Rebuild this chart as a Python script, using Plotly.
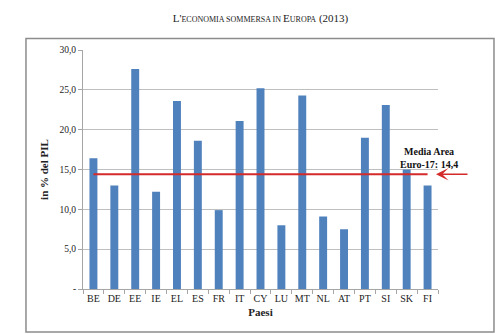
import plotly.graph_objects as go

paesi = ["BE", "DE", "EE", "IE", "EL", "ES", "FR", "IT", "CY", "LU", "MT", "NL", "AT", "PT", "SI", "SK", "FI"]
valori = [16.4, 13.0, 27.6, 12.2, 23.6, 18.6, 9.9, 21.1, 25.2, 8.0, 24.3, 9.1, 7.5, 19.0, 23.1, 15.0, 13.0]
media = 14.4
tick_vals = [0, 5, 10, 15, 20, 25, 30]
tick_text = ["-", "5,0", "10,0", "15,0", "20,0", "25,0", "30,0"]

SERIF = "Liberation Serif, Times New Roman, serif"

fig = go.Figure()
fig.add_trace(go.Bar(x=paesi, y=valori, marker=dict(color="#4F81BD", line=dict(width=0)),
                     width=0.38, showlegend=False))
fig.add_trace(go.Scatter(x=paesi, y=[media] * len(paesi), mode="lines",
                         line=dict(color="#D42A2A", width=2), showlegend=False))

sc = lambda t: f"<span style='font-size:8px'>{t}</span>"
title = "L'" + sc("ECONOMIA SOMMERSA IN ") + "E" + sc("UROPA") + " (2013)"

fig.update_layout(
    width=495, height=334,
    margin=dict(l=83, r=57, t=50, b=45),
    paper_bgcolor="white", plot_bgcolor="white",
    font=dict(family=SERIF, color="#222222", size=10),
    title=dict(text=title, x=0.5, xref="paper", xanchor="center", y=1 - 18 / 334, yanchor="middle",
               font=dict(family=SERIF, size=11, color="#222222")),
    xaxis=dict(type="category", showgrid=False, showline=True, linecolor="#A6A6A6", linewidth=1,
               ticks="outside", tickson="boundaries", ticklen=4, tickcolor="#A6A6A6",
               tickangle=0,
               tickfont=dict(family=SERIF, size=10, color="#222222"),
               title=dict(text="<b>Paesi</b>", font=dict(family=SERIF, size=11, color="#222222"), standoff=5)),
    yaxis=dict(range=[0, 30], tickvals=tick_vals, ticktext=tick_text,
               showgrid=True, gridcolor="#BFBFBF", gridwidth=1,
               showline=True, linecolor="#A6A6A6", linewidth=1,
               ticks="outside", ticklen=4, tickcolor="#A6A6A6",
               tickfont=dict(family=SERIF, size=9.5, color="#222222"),
               zeroline=False,
               title=dict(text="<b>in % del PIL</b>", font=dict(family=SERIF, size=11, color="#222222"), standoff=8)),
    bargap=0.6,
)

# outer frame
fig.add_shape(type="rect", xref="paper", yref="paper",
              x0=-0.1606, x1=1.1577, y0=-0.1795, y1=1.048,
              line=dict(color="#8C8C8C", width=1.5), layer="below")

# arrow + label
fig.add_annotation(xref="paper", yref="y", x=(436 - 83) / 355, y=media,
                   ax=33, ay=0, axref="pixel", ayref="pixel", text="", showarrow=True,
                   arrowhead=3, arrowsize=1.4, arrowwidth=1.5, arrowcolor="#D42A2A")
fig.add_annotation(xref="paper", yref="y", x=(460 - 83) / 355, y=media, yshift=16,
                   text="<b>Media Area<br>Euro-17: 14,4</b>", showarrow=False,
                   font=dict(family=SERIF, size=10, color="#111111"), align="center")

fig.write_html("out.html")
